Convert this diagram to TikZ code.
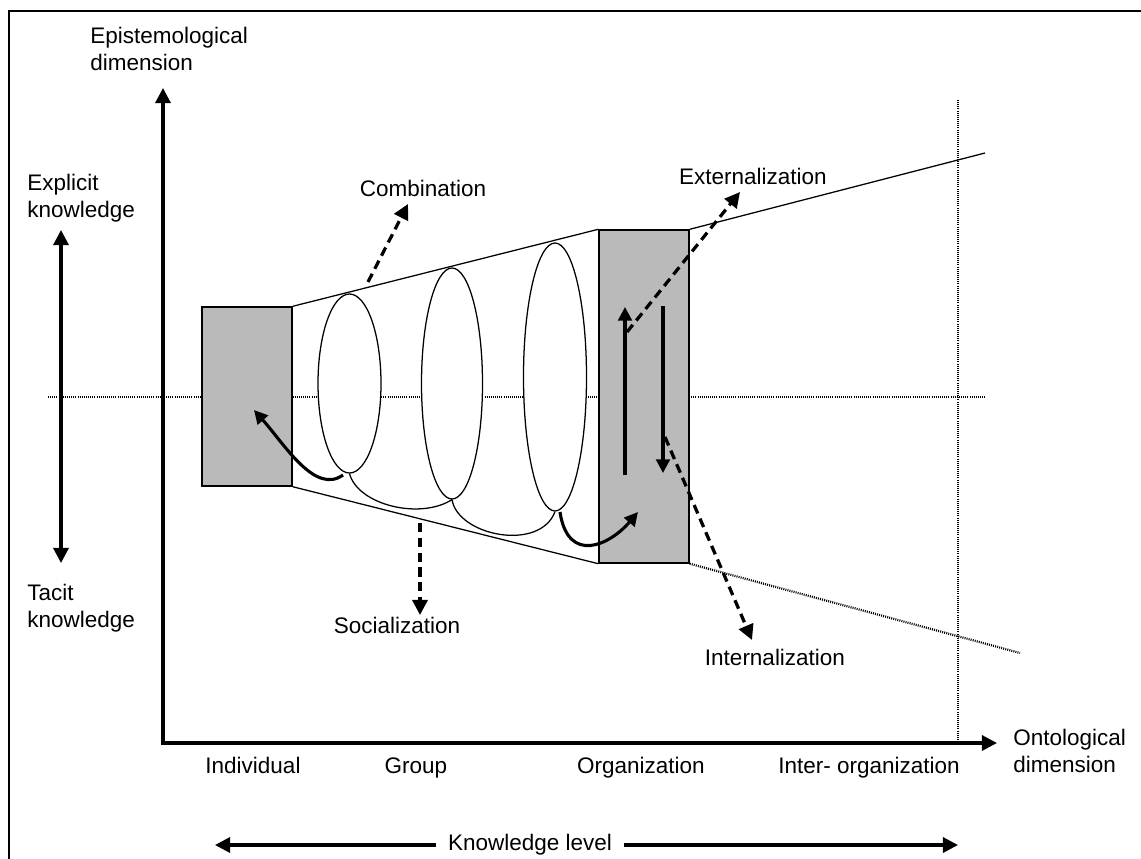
\documentclass[tikz,border=0pt]{standalone}
\usepackage{fontspec}
\setmainfont{Liberation Sans}
\usetikzlibrary{arrows.meta,shapes.geometric}

\begin{document}
\begin{tikzpicture}
[x=0.25mm,y=-0.25mm,
>={Triangle[length=3.8mm,width=3.8mm]},
every node/.style={font=\fontsize{16}{19.2}\selectfont},
txt/.style={inner sep=0pt,align=left},
lvl/.style={rectangle,draw=black,fill=black!27,line width=1pt,inner sep=0pt,minimum width=22.5mm},
ell/.style={ellipse,draw=black,fill=white,line width=0.9pt,inner sep=0pt},
axis/.style={line width=2.2pt},
dotl/.style={line width=1.6pt,dash pattern=on 0.7pt off 0.8pt},
mode/.style={->,line width=2.3pt,dash pattern=on 2.3mm off 1.4mm},
flow/.style={->,line width=2.2pt,>={Triangle[length=3.4mm,width=3.4mm]}}]

\useasboundingbox (0,0) rectangle (1141,859);
\draw [line width=1.4pt] (9,859) -- (9,11) -- (1141,11);

% axes
\coordinate (origin) at (163,743);
\coordinate (ytip)   at (163,88);
\coordinate (xtip)   at (997,743);
\draw [axis,<->,line join=miter] (ytip) |- (xtip);

% dotted guide lines
\coordinate (hl) at (48,397);
\coordinate (hr) at (985,397);
\coordinate (vt) at (958,100);
\coordinate (vb) at (958,743);
\draw [dotl] (hl) -- (hr);
\draw [dotl] (vt) -- (vb);

% explicit / tacit
\coordinate (et) at (61,230);
\coordinate (eb) at (61,563);
\draw [axis,<->] (et) -- (eb);

% knowledge levels
\node at (247,396.5) [lvl,minimum height=44.75mm] (ind) {};
\node at (644,396.5) [lvl,minimum height=83.25mm] (org) {};
\coordinate (upend) at (985,153);
\coordinate (loend) at (1020,653);
\draw [line width=0.9pt] (ind.north east) -- (org.north west);
\draw [line width=0.9pt] (ind.south east) -- (org.south west);
\draw [line width=0.9pt] (org.north east) -- (upend);
\draw [dotl] (org.south east) -- (loend);

\node at (349.5,383.5) [ell,minimum width=15.75mm,minimum height=44.75mm] (e1) {};
\node at (452,383.5)   [ell,minimum width=15.25mm,minimum height=57.75mm] (e2) {};
\node at (555,377)     [ell,minimum width=15.75mm,minimum height=67mm]    (e3) {};
\draw [line width=0.9pt] (e1.south) .. controls (358,505) and (420,520) .. (e2.south);
\draw [line width=0.9pt] (e2.south) .. controls (458,536) and (540,552) .. (e3.south);

% conversion arrows
\coordinate (s1) at (343,475);
\coordinate (t1) at (254,410);
\coordinate (s2) at (560,512);
\coordinate (t2) at (638,512);
\draw [flow] (s1) .. controls (315,495) and (285,445) .. (t1);
\draw [flow] (s2) .. controls (568,565) and (610,545) .. (t2);
\coordinate (ub) at (625,475);
\coordinate (ut) at (625,307);
\coordinate (dt) at (663,306);
\coordinate (db) at (663,473);
\draw [flow] (ub) -- (ut);
\draw [flow] (dt) -- (db);

% labels
\node at (90,27)     [txt,anchor=north west] (epi)  {Epistemological\\dimension};
\node at (1013,729)  [txt,anchor=north west] (onto) {Ontological\\dimension};
\node at (27,174)    [txt,anchor=north west] (expl) {Explicit\\knowledge};
\node at (27,584)    [txt,anchor=north west] (tac)  {Tacit\\knowledge};
\node at (253,773)   [txt,anchor=base] (lind)  {Individual};
\node at (416,773)   [txt,anchor=base] (lgrp)  {Group};
\node at (641,773)   [txt,anchor=base] (lorg)  {Organization};
\node at (869,773)   [txt,anchor=base] (linter) {Inter- organization};
\node at (423,188)   [txt] (comb) {Combination};
\node at (753,176)   [txt] (extn) {Externalization};
\node at (775,657)   [txt] (intn) {Internalization};
\node at (397,625)   [txt] (socl) {Socialization};
\node at (530,845)   [txt,inner xsep=3mm] (klev) {Knowledge level};
\coordinate (kll) at (215,845);
\coordinate (klr) at (958,845);
\draw [axis,->] (klev.west) -- (kll);
\draw [axis,->] (klev.east) -- (klr);

% mode arrows
\coordinate (cs) at (368,282);
\coordinate (ct) at (408,204);
\coordinate (xs) at (627,332);
\coordinate (xt) at (740,192);
\coordinate (is) at (665,437);
\coordinate (it) at (752,640);
\coordinate (ss) at (420,523);
\coordinate (st) at (420,615);
\draw [mode] (cs) -- (ct);
\draw [mode] (xs) -- (xt);
\draw [mode] (is) -- (it);
\draw [mode] (ss) -- (st);
\end{tikzpicture}
\end{document}
